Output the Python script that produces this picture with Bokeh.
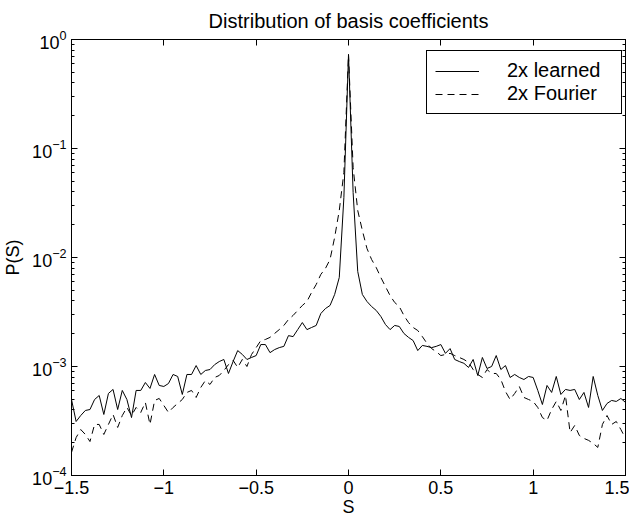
import numpy as np
from bokeh.plotting import figure
from bokeh.models import (LinearAxis, FixedTicker, LogTicker,
                          Legend, LegendItem, CustomJSTickFormatter)
from bokeh.embed import file_html
from bokeh.resources import INLINE

# ---------------- data ----------------
s_values = np.linspace(-1.5, 1.5, 121)

p_learned = [
    4.98e-4, 3.13e-4, 3.55e-4, 3.95e-4, 4.03e-4, 4.98e-4, 5.42e-4, 3.63e-4, 5.66e-4, 6.16e-4,
    4.03e-4, 6.03e-4, 4.98e-4, 3.40e-4, 6.03e-4, 6.03e-4, 7.13e-4, 6.29e-4, 8.45e-4, 6.70e-4,
    6.56e-4, 6.98e-4, 8.45e-4, 8.10e-4, 5.54e-4, 8.45e-4, 8.45e-4, 1.02e-3, 8.45e-4, 9.19e-4,
    9.38e-4, 1.04e-3, 1.11e-3, 1.16e-3, 8.63e-4, 1.11e-3, 1.40e-3, 1.29e-3, 1.16e-3, 1.21e-3,
    1.26e-3, 1.59e-3, 1.59e-3, 1.34e-3, 1.43e-3, 1.49e-3, 1.53e-3, 1.92e-3, 1.88e-3, 2.18e-3,
    2.53e-3, 2.18e-3, 2.28e-3, 2.38e-3, 3.06e-3, 3.40e-3, 3.63e-3, 4.58e-3, 6.56e-3, 3.55e-2,
    0.729,
    3.95e-2, 7.45e-3, 4.58e-3, 3.95e-3, 3.55e-3, 3.27e-3, 2.88e-3, 2.43e-3, 2.18e-3, 2.38e-3,
    2.33e-3, 2.01e-3, 1.85e-3, 1.73e-3, 1.40e-3, 1.56e-3, 1.53e-3, 1.49e-3, 1.53e-3, 1.59e-3,
    1.32e-3, 1.46e-3, 1.16e-3, 1.11e-3, 1.07e-3, 9.80e-4, 1.16e-3, 8.27e-4, 1.21e-3, 9.59e-4,
    1.00e-3, 1.26e-3, 9.38e-4, 1.02e-3, 7.93e-4, 8.45e-4, 7.93e-4, 7.60e-4, 8.10e-4, 7.93e-4,
    6.03e-4, 4.48e-4, 6.70e-4, 5.78e-4, 8.10e-4, 5.54e-4, 6.16e-4, 6.03e-4, 6.16e-4, 4.98e-4,
    5.78e-4, 4.21e-4, 8.10e-4, 5.42e-4, 3.95e-4, 4.58e-4, 4.88e-4, 4.78e-4, 5.09e-4, 4.68e-4,
]

p_fourier = [
    1.63e-4, 2.23e-4, 2.64e-4, 2.38e-4, 2.05e-4, 2.94e-4, 2.94e-4, 2.38e-4, 2.94e-4, 3.63e-4,
    2.76e-4, 3.55e-4, 4.21e-4, 3.55e-4, 4.21e-4, 3.79e-4, 4.68e-4, 2.94e-4, 4.88e-4, 5.09e-4,
    4.39e-4, 3.79e-4, 4.21e-4, 4.58e-4, 4.98e-4, 5.78e-4, 6.03e-4, 5.20e-4, 6.42e-4, 7.44e-4,
    6.84e-4, 7.93e-4, 8.27e-4, 9.19e-4, 1.04e-3, 1.14e-3, 9.80e-4, 1.16e-3, 1.00e-3, 1.29e-3,
    1.49e-3, 1.73e-3, 1.77e-3, 1.85e-3, 2.01e-3, 2.18e-3, 2.38e-3, 2.70e-3, 2.94e-3, 3.27e-3,
    3.63e-3, 3.95e-3, 4.78e-3, 5.65e-3, 6.99e-3, 7.93e-3, 9.59e-3, 1.53e-2, 2.70e-2, 6.02e-2,
    0.729,
    6.70e-2, 2.70e-2, 1.77e-2, 1.21e-2, 9.59e-3, 8.10e-3, 6.56e-3, 5.42e-3, 4.48e-3, 3.87e-3,
    3.55e-3, 2.94e-3, 2.53e-3, 2.28e-3, 2.14e-3, 1.88e-3, 1.63e-3, 1.46e-3, 1.37e-3, 1.26e-3,
    1.29e-3, 1.32e-3, 1.26e-3, 1.21e-3, 1.16e-3, 1.09e-3, 9.38e-4, 8.45e-4, 7.93e-4, 9.38e-4,
    8.63e-4, 8.63e-4, 7.60e-4, 5.90e-4, 4.98e-4, 5.66e-4, 6.56e-4, 5.20e-4, 4.98e-4, 4.78e-4,
    4.21e-4, 3.40e-4, 3.20e-4, 4.03e-4, 4.78e-4, 3.95e-4, 5.42e-4, 2.48e-4, 2.88e-4, 2.33e-4,
    2.19e-4, 2.10e-4, 1.97e-4, 1.81e-4, 2.94e-4, 3.55e-4, 2.94e-4, 3.13e-4, 2.64e-4, 2.19e-4,
]

x_ticks = [-1.5, -1.0, -0.5, 0.0, 0.5, 1.0, 1.5]
x_tick_labels = ["\u22121.5", "\u22121", "\u22120.5", "0", "0.5", "1", "1.5"]
series_names = ["2x learned", "2x Fourier"]
title_text = "Distribution of basis coefficients"
x_label = "S"
y_label = "P(S)"

FONT = "Liberation Sans"

# ---------------- figure ----------------
p = figure(frame_width=554, frame_height=436, y_axis_type="log",
           x_range=(-1.5, 1.5), y_range=(1e-4, 1),
           output_backend="svg", toolbar_location=None,
           min_border_left=67, min_border_right=4,
           min_border_top=34, min_border_bottom=42)

p.background_fill_color = "white"
p.border_fill_color = "white"
p.outline_line_color = "black"
p.outline_line_width = 1
p.xgrid.grid_line_color = None
p.ygrid.grid_line_color = None

p.title.text = title_text
p.title.align = "center"
p.title.text_font = FONT
p.title.text_font_size = "20px"
p.title.text_font_style = "normal"
p.title.text_color = "black"
p.title.standoff = 15

blank = CustomJSTickFormatter(code="return ''")

def style_axis(ax, show_labels=True):
    ax.axis_line_color = "black"
    ax.major_tick_line_color = "black"
    ax.minor_tick_line_color = "black"
    ax.major_tick_in = 6
    ax.major_tick_out = 0
    ax.minor_tick_in = 3
    ax.minor_tick_out = 0
    ax.major_label_text_font = FONT
    ax.major_label_text_color = "black"
    ax.major_label_text_font_size = "18px"
    ax.axis_label_text_font = FONT
    ax.axis_label_text_font_style = "normal"
    ax.axis_label_text_color = "black"
    ax.axis_label_text_font_size = "18px"
    if not show_labels:
        ax.formatter = blank
        ax.major_label_text_font_size = "2px"
        ax.major_label_standoff = 0

xa = p.xaxis[0]
style_axis(xa)
xa.ticker = FixedTicker(ticks=x_ticks)
xa.major_label_overrides = dict(zip(x_ticks, x_tick_labels))
xa.minor_tick_line_color = None
xa.axis_label = x_label
xa.major_label_standoff = 5
xa.axis_label_standoff = 0

ya = p.yaxis[0]
style_axis(ya)
ya.ticker = LogTicker(num_minor_ticks=10)
ya.axis_label = y_label
ya.major_label_standoff = 5
ya.axis_label_standoff = 6

top = LinearAxis(ticker=FixedTicker(ticks=x_ticks))
style_axis(top, show_labels=False)
top.minor_tick_line_color = None
p.add_layout(top, "above")

right = LinearAxis(ticker=LogTicker(num_minor_ticks=10))
style_axis(right, show_labels=False)
p.add_layout(right, "right")

r1 = p.line(s_values, p_learned, line_color="black", line_width=1)
r2 = p.line(s_values, p_fourier, line_color="black", line_width=1, line_dash="7 5")

legend = Legend(items=[LegendItem(label=series_names[0], renderers=[r1]),
                       LegendItem(label=series_names[1], renderers=[r2])],
                location=(355, 361))
legend.border_line_color = "black"
legend.border_line_alpha = 1
legend.border_line_width = 1
legend.background_fill_color = "white"
legend.background_fill_alpha = 1
legend.glyph_width = 44
legend.glyph_height = 18
legend.label_standoff = 28
legend.label_width = 106
legend.label_height = 18
legend.padding = 8
legend.spacing = 0
legend.margin = 0
legend.label_text_font = FONT
legend.label_text_font_size = "20px"
legend.label_text_color = "black"
p.add_layout(legend)

open("out.html", "w").write(file_html(p, INLINE))
